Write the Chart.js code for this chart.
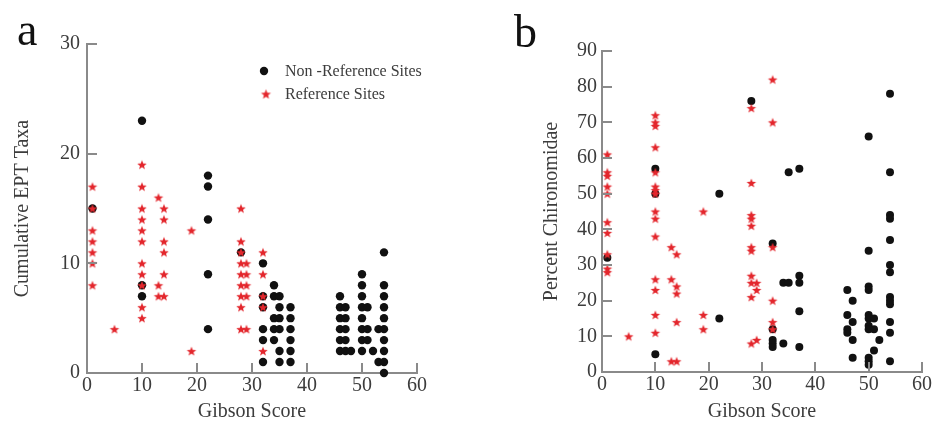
<!DOCTYPE html>
<html>
<head>
<meta charset="utf-8">
<script src="https://cdn.jsdelivr.net/npm/chart.js@4"></script>
<style>
  html, body { margin: 0; padding: 0; background: #fff; }
  .panel { position: absolute; top: 0; height: 426px; }
  #wrapA { left: 0; width: 466px; }
  #wrapB { left: 466px; width: 467px; }
</style>
</head>
<body>
<div class="panel" id="wrapA"><canvas id="chartA" width="466" height="426"></canvas></div>
<div class="panel" id="wrapB"><canvas id="chartB" width="467" height="426"></canvas></div>
<script>
// Panel a: cumulative EPT taxa, grouped by Gibson score column
const eptRefScore = [1, 5, 10, 13, 14, 19, 28, 29, 32];
const eptRefTaxa = [
    [17, 15, 13, 12, 11, 10, 8], [4], [19, 17, 15, 14, 13, 12, 10, 9, 8, 6, 5],
    [16, 8, 7], [15, 14, 12, 11, 9, 7], [13, 2],
    [15, 12, 11, 10, 9, 8, 7, 6, 4], [10, 9, 8, 7, 4], [11, 9, 7, 6, 2]
];
const eptNonScore = [1, 10, 22, 28, 32, 34, 35, 37, 46, 47, 48, 50, 51, 52, 53, 54];
const eptNonTaxa = [
    [15], [23, 8, 7], [18, 17, 14, 9, 4], [11], [10, 7, 6, 4, 3, 1],
    [8, 7, 5, 4, 3], [7, 6, 5, 4, 2, 1], [6, 5, 4, 3, 2, 1],
    [7, 6, 5, 4, 3, 2], [6, 5, 4, 3, 2], [2], [9, 8, 7, 6, 5, 4, 3, 2],
    [6, 4, 3], [2], [4, 1], [11, 8, 7, 6, 5, 4, 3, 2, 1, 0]
];

// Panel b: percent Chironomidae
const chiRefScore = [1, 5, 10, 13, 14, 19, 28, 29, 32];
const chiRefPct = [
    [61, 56, 55, 52, 50, 42, 39, 33, 29, 28], [10],
    [72, 70, 69, 63, 56, 52, 51, 50, 45, 43, 38, 26, 23, 16, 11],
    [35, 26, 3], [33, 24, 22, 14, 3], [45, 16, 12],
    [74, 53, 44, 43, 41, 35, 34, 27, 25, 21, 8], [25, 23, 9], [82, 70, 35, 20, 14, 12]
];
const chiNonScore = [1, 10, 22, 28, 32, 34, 35, 37, 46, 47, 50, 51, 52, 54];
const chiNonPct = [
    [32], [57, 50, 5], [50, 15], [76], [36, 12, 9, 8, 7], [25, 8], [56, 25],
    [57, 27, 25, 17, 7], [23, 16, 12, 11], [20, 14, 9, 4],
    [66, 34, 24, 23, 16, 15, 13, 12, 4, 3, 2], [15, 12, 6], [9],
    [78, 56, 44, 43, 37, 30, 28, 21, 20, 19, 14, 11, 3]
];

const xTicks = [0, 10, 20, 30, 40, 50, 60];
const eptTicks = [0, 10, 20, 30];
const chiTicks = [0, 10, 20, 30, 40, 50, 60, 70, 80, 90];

const RED = '#e3262c';
const DOT = '#111111';
const AXIS = '#8a8a8a';
const TEXT = '#3c3c3c';
const SERIF = "'Liberation Serif', 'DejaVu Serif', serif";

function toPoints(scores, values) {
    const pts = [];
    scores.forEach((s, i) => values[i].forEach(v => pts.push({ x: s, y: v })));
    return pts;
}

function makeStar(r) {
    const size = Math.ceil(r * 2 + 2);
    const c = document.createElement('canvas');
    c.width = size; c.height = size;
    const g = c.getContext('2d');
    const cx = size / 2, cy = size / 2 + r * 0.1;
    g.beginPath();
    for (let i = 0; i < 10; i++) {
        const rad = i % 2 === 0 ? r : r * 0.42;
        const a = -Math.PI / 2 + i * Math.PI / 5;
        g.lineTo(cx + rad * Math.cos(a), cy + rad * Math.sin(a));
    }
    g.closePath();
    g.fillStyle = RED;
    g.fill();
    return c;
}

// inward tick marks, drawn from the scales' own ticks
const inwardTicks = {
    id: 'inwardTicks',
    afterDraw(chart) {
        const { ctx } = chart;
        const xs = chart.scales.x, ys = chart.scales.y;
        ctx.save();
        ctx.strokeStyle = AXIS;
        ctx.lineWidth = 2;
        ctx.beginPath();
        xs.ticks.forEach(t => {
            const px = Math.round(xs.getPixelForValue(t.value));
            ctx.moveTo(px, xs.top);
            ctx.lineTo(px, xs.top - 10);
        });
        ys.ticks.forEach(t => {
            const py = Math.round(ys.getPixelForValue(t.value));
            ctx.moveTo(ys.right, py);
            ctx.lineTo(ys.right + 10, py);
        });
        ctx.stroke();
        ctx.restore();
    }
};

function panelLabel(letter, x, y) {
    return {
        id: 'panelLabel' + letter,
        afterDraw(chart) {
            const ctx = chart.ctx;
            ctx.save();
            ctx.fillStyle = '#111';
            ctx.font = '46px ' + SERIF;
            ctx.textBaseline = 'alphabetic';
            ctx.fillText(letter, x, y);
            ctx.restore();
        }
    };
}

const legendA = {
    id: 'legendA',
    afterDraw(chart) {
        const ctx = chart.ctx;
        ctx.save();
        ctx.fillStyle = DOT;
        ctx.beginPath();
        ctx.arc(264, 71, 4.2, 0, Math.PI * 2);
        ctx.fill();
        const s = makeStar(5.2);
        ctx.drawImage(s, 266 - s.width / 2, 94 - s.height / 2);
        ctx.fillStyle = TEXT;
        ctx.font = '16px ' + SERIF;
        ctx.textBaseline = 'middle';
        ctx.fillText('Non -Reference Sites', 285, 72);
        ctx.fillText('Reference Sites', 285, 95);
        ctx.restore();
    }
};

function buildChart(id, cfg) {
    return new Chart(document.getElementById(id), {
        type: 'scatter',
        data: {
            datasets: [
                {
                    label: 'Reference Sites',
                    data: toPoints(cfg.refScore, cfg.refVals),
                    pointStyle: makeStar(cfg.starR),
                    clip: false
                },
                {
                    label: 'Non -Reference Sites',
                    data: toPoints(cfg.nonScore, cfg.nonVals),
                    pointStyle: 'circle',
                    pointRadius: cfg.dotR,
                    backgroundColor: DOT,
                    borderColor: DOT,
                    borderWidth: 0,
                    clip: false
                }
            ]
        },
        options: {
            responsive: false,
            animation: false,
            events: [],
            layout: { padding: cfg.padding },
            plugins: { legend: { display: false }, tooltip: { enabled: false } },
            scales: {
                x: {
                    type: 'linear', min: 0, max: 60,
                    afterBuildTicks: s => { s.ticks = xTicks.map(v => ({ value: v })); },
                    afterFit: s => { s.height = cfg.xH; },
                    grid: { display: false, drawTicks: false },
                    border: { display: true, color: AXIS, width: 2 },
                    ticks: { color: TEXT, font: { family: SERIF, size: 20 }, padding: 1, maxRotation: 0 },
                    title: { display: true, text: 'Gibson Score', color: TEXT,
                             font: { family: SERIF, size: 20 }, padding: { bottom: 2, top: 0 } }
                },
                y: {
                    type: 'linear', min: 0, max: cfg.yMax,
                    afterBuildTicks: s => { s.ticks = cfg.yTicks.map(v => ({ value: v })); },
                    afterFit: s => { s.width = cfg.yW; },
                    grid: { display: false, drawTicks: false },
                    border: { display: true, color: AXIS, width: 2 },
                    ticks: { color: TEXT, font: { family: SERIF, size: 20 }, padding: cfg.yPad },
                    title: { display: true, text: cfg.yTitle, color: TEXT,
                             font: { family: SERIF, size: 20 }, padding: { top: cfg.yTitlePad, bottom: 0 } }
                }
            }
        },
        plugins: cfg.plugins
    });
}

buildChart('chartA', {
    refScore: eptRefScore, refVals: eptRefTaxa,
    nonScore: eptNonScore, nonVals: eptNonTaxa,
    yMax: 30, yTicks: eptTicks, yTitle: 'Cumulative EPT Taxa',
    starR: 5, dotR: 4.2,
    padding: { left: 0, right: 49, top: 44, bottom: 0 },
    xH: 53, yW: 87, yPad: 7, yTitlePad: 11,
    plugins: [inwardTicks, legendA, panelLabel('a', 17, 45)]
});

buildChart('chartB', {
    refScore: chiRefScore, refVals: chiRefPct,
    nonScore: chiNonScore, nonVals: chiNonPct,
    yMax: 90, yTicks: chiTicks, yTitle: 'Percent Chironomidae',
    starR: 5, dotR: 4,
    padding: { left: 0, right: 11, top: 51, bottom: 0 },
    xH: 54, yW: 136, yPad: 5, yTitlePad: 74,
    plugins: [inwardTicks, panelLabel('b', 48, 47)]
});
</script>
</body>
</html>
